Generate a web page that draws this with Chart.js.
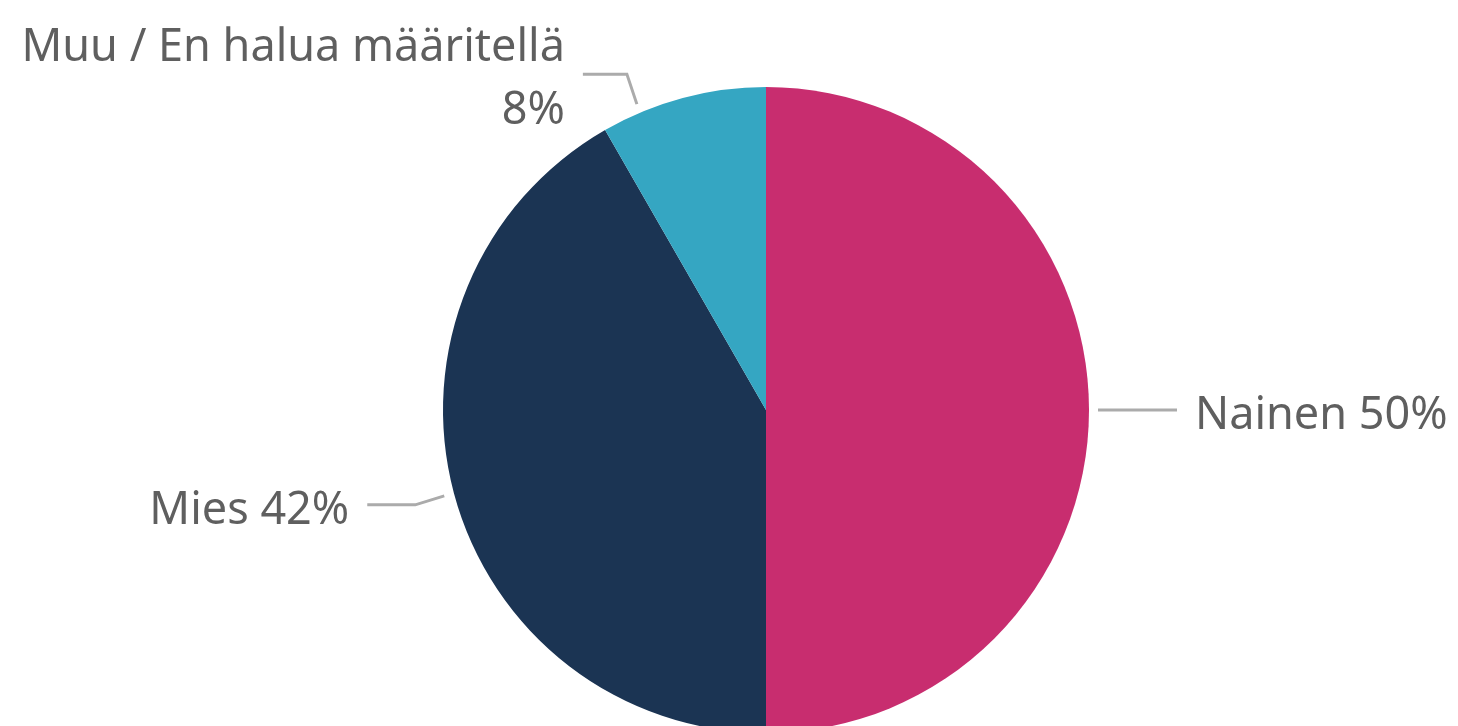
<!DOCTYPE html>
<html lang="fi">
<head>
<meta charset="utf-8">
<title>Sukupuoli</title>
<script src="https://cdn.jsdelivr.net/npm/chart.js@4"></script>
<style>
  html, body { margin: 0; padding: 0; background: #fff; overflow: hidden; }
  #wrap { width: 1458px; height: 820px; }
</style>
</head>
<body>
<div id="wrap"><canvas id="genderChart"></canvas></div>
<script>
// data
const categories = ["Nainen", "Mies", "Muu / En halua määritellä"];
const shares = [50, 41.7, 8.3];
const sliceColors = ["#C82D6F", "#1B3453", "#35A6C2"];

// label placement (Excel style leader lines)
const labelLayout = [
  { frac: 0.5,   gap: 9,  bend: [0, 0],     run: 79, side: 1,  lines: (c, v) => [c + " " + v + "%"] },
  { frac: 0.5,   gap: 10, bend: [-29, 9],   run: 48, side: -1, lines: (c, v) => [c + " " + v + "%"] },
  { frac: 0.234, gap: 9,  bend: [-10, -30], run: 44, side: -1, lines: (c, v) => [c, v + "%"] }
];

const leaderLabels = {
  id: "leaderLabels",
  afterDatasetsDraw(chart) {
    const ctx = chart.ctx;
    const meta = chart.getDatasetMeta(0);
    ctx.save();
    ctx.font = "45px 'Noto Sans'";
    meta.data.forEach((arc, i) => {
      const p = arc.getProps(["x", "y", "startAngle", "endAngle", "outerRadius"], true);
      const L = labelLayout[i];
      const a = p.startAngle + (p.endAngle - p.startAngle) * L.frac;
      const r = p.outerRadius + L.gap;
      const x0 = p.x + Math.cos(a) * r;
      const y0 = p.y + Math.sin(a) * r;
      const x1 = x0 + L.bend[0], y1 = y0 + L.bend[1];
      const x2 = x1 + L.side * L.run;
      ctx.strokeStyle = "#ABABAB";
      ctx.lineWidth = 3;
      ctx.beginPath();
      ctx.moveTo(x0, y0);
      ctx.lineTo(x1, y1);
      ctx.lineTo(x2, y1);
      ctx.stroke();
      const lines = L.lines(categories[i], Math.round(shares[i]));
      const tx = x2 + L.side * 18;
      ctx.fillStyle = "#5F5F5F";
      ctx.textAlign = L.side > 0 ? "left" : "right";
      ctx.textBaseline = "middle";
      const lh = 63;
      const top = y1 - (lines.length - 1) * lh / 2;
      lines.forEach((t, k) => ctx.fillText(t, tx, top + k * lh + 6));
    });
    ctx.restore();
  }
};

new Chart(document.getElementById("genderChart"), {
  type: "pie",
  data: {
    labels: categories,
    datasets: [{
      data: shares,
      backgroundColor: sliceColors,
      borderWidth: 0
    }]
  },
  options: {
    responsive: true,
    maintainAspectRatio: false,
    animation: false,
    layout: { padding: { left: 443, right: 369, top: 87, bottom: 87 } },
    plugins: {
      legend: { display: false },
      tooltip: { enabled: false }
    }
  },
  plugins: [leaderLabels]
});
</script>
</body>
</html>
